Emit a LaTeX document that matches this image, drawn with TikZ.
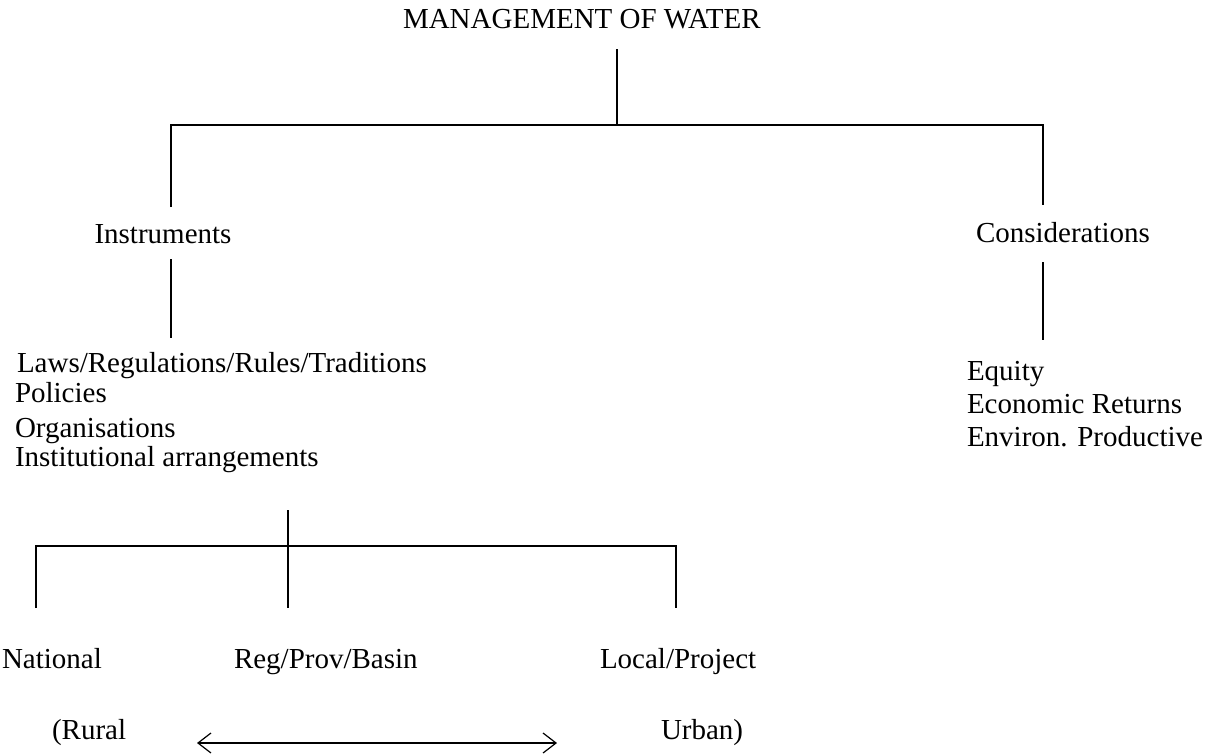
\documentclass[tikz,border=0pt]{standalone}
\usepackage{fontspec}
\setmainfont{Liberation Serif}
\usetikzlibrary{arrows.meta}
\begin{document}
\begin{tikzpicture}[x=1pt,y=-1pt,
  txt/.style={inner sep=0pt,outer sep=0pt,font=\fontsize{29}{33}\selectfont},
  conn/.style={line width=1.4pt,line cap=butt},
  dbl/.style={line width=1.2pt,{Straight Barb[length=13pt,width=20pt,line width=1.2pt]}-{Straight Barb[length=13pt,width=20pt,line width=1.2pt]}}]
\useasboundingbox[fill=white] (0,0) rectangle (1206,753);
% texts
\node[txt,anchor=base west] (title) at (403,28) {MANAGEMENT OF WATER};
\node[txt,anchor=base] (instr) at (163,243) {Instruments};
\node[txt,anchor=base] (cons) at (1063,242) {Considerations};
\node[txt,anchor=base west] (laws) at (17,372) {Laws/Regulations/Rules/Traditions};
\node[txt,anchor=base west] (pol) at (15,402) {Policies};
\node[txt,anchor=base west] (org) at (15,437) {Organisations};
\node[txt,anchor=base west] (inst) at (15,466) {Institutional arrangements};
\node[txt,anchor=base west] (eq) at (967,380) {Equity};
\node[txt,anchor=base west] (eco) at (967,413) {Economic Returns};
\node[txt,anchor=base west] (env) at (967,446) {Environ. Productive};
\node[txt,anchor=base west] (nat) at (2,668) {National};
\node[txt,anchor=base west] (reg) at (234,668) {Reg/Prov/Basin};
\node[txt,anchor=base west] (loc) at (600,668) {Local/Project};
\node[txt,anchor=base west] (rur) at (52,739) {(Rural};
\node[txt,anchor=base west] (urb) at (661,739) {Urban)};
% junction coordinates
\coordinate (t0) at (617,49);
\coordinate (t1) at (617,125);
\coordinate (hl) at (171,125);
\coordinate (hr) at (1043,125);
\coordinate (il) at (171,207);
\coordinate (cr) at (1043,205);
\coordinate (i1) at (171,259);
\coordinate (i2) at (171,338);
\coordinate (c1) at (1043,262);
\coordinate (c2) at (1043,340);
\coordinate (m0) at (288,510);
\coordinate (m1) at (288,608);
\coordinate (bl) at (36,546);
\coordinate (br) at (676,546);
\coordinate (bl2) at (36,608);
\coordinate (br2) at (676,608);
\coordinate (a0) at (197,743);
\coordinate (a1) at (557,743);
% connectors
\draw[conn] (t0) -- (t1);
\draw[conn] (il) -- (hl) -- (hr) -- (cr);
\draw[conn] (i1) -- (i2);
\draw[conn] (c1) -- (c2);
\draw[conn] (m0) -- (m1);
\draw[conn] (bl2) -- (bl) -- (br) -- (br2);
\draw[dbl] (a0) -- (a1);
\end{tikzpicture}
\end{document}
